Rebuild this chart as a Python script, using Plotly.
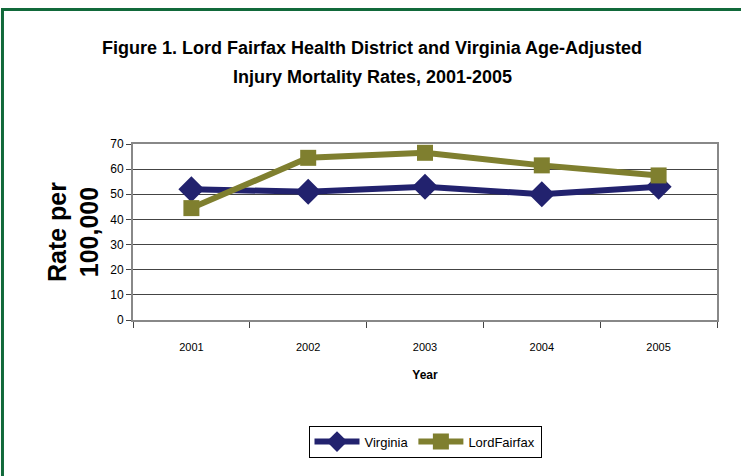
import plotly.graph_objects as go

years = ["2001", "2002", "2003", "2004", "2005"]
virginia = [52, 51, 53, 50, 53]
lord_fairfax = [44.5, 64.5, 66.5, 61.5, 57.5]
y_ticks = [0, 10, 20, 30, 40, 50, 60, 70]
title_lines = [
    "Figure 1. Lord Fairfax Health District and Virginia Age-Adjusted",
    "Injury Mortality Rates, 2001-2005",
]

fig = go.Figure()
fig.add_trace(go.Scatter(
    x=years, y=virginia, name="Virginia", mode="lines+markers",
    line=dict(color="#22226e", width=6),
    marker=dict(symbol="diamond", size=20, color="#22226e"),
))
fig.add_trace(go.Scatter(
    x=years, y=lord_fairfax, name="LordFairfax", mode="lines+markers",
    line=dict(color="#7f7f2f", width=6),
    marker=dict(symbol="square", size=16, color="#7f7f2f"),
))

fig.update_layout(
    width=741, height=476,
    margin=dict(l=133, r=24, t=144, b=156),
    paper_bgcolor="white", plot_bgcolor="white",
    font=dict(family="Liberation Sans, Arial, sans-serif", color="black"),
    showlegend=True,
    legend=dict(
        orientation="h", x=0.5, xanchor="center", y=-0.6, yanchor="top",
        bordercolor="black", borderwidth=1, font=dict(size=13),
        itemwidth=45,
    ),
    xaxis=dict(
        type="category", range=[-0.5, 4.5], tickson="boundaries",
        ticks="outside", ticklen=6,
        tickcolor="#444", showline=True, linecolor="#888", linewidth=2,
        mirror=True, showgrid=False, tickfont=dict(size=11),
        ticklabelstandoff=16,
        title=dict(text="<b>Year</b>", font=dict(size=12), standoff=18),
    ),
    yaxis=dict(
        range=[0, 70], tickvals=y_ticks, ticks="outside", ticklen=5,
        tickcolor="#444", showline=True, linecolor="#888", linewidth=2,
        mirror=True, showgrid=True, gridcolor="#444", gridwidth=1,
        tickfont=dict(size=12), zeroline=False,
        title=dict(text="<b>Rate per<br>100,000</b>", font=dict(size=25), standoff=4),
    ),
)

for txt, ypx in zip(title_lines, [48, 77]):
    fig.add_annotation(
        text=f"<b>{txt}</b>", xref="paper", yref="paper",
        x=(372 - 133) / 584, y=1 + (144 - ypx) / 176,
        xanchor="center", yanchor="middle", showarrow=False,
        font=dict(size=18, color="black"),
    )

fig.add_shape(
    type="rect", xref="paper", yref="paper",
    x0=-0.2235, x1=2.0, y0=-3.0, y1=1.764,
    line=dict(color="#11693a", width=3), fillcolor="rgba(0,0,0,0)", layer="below",
)

fig.write_html("out.html", config={"displayModeBar": False},
               post_script="document.body.style.margin='0';")
